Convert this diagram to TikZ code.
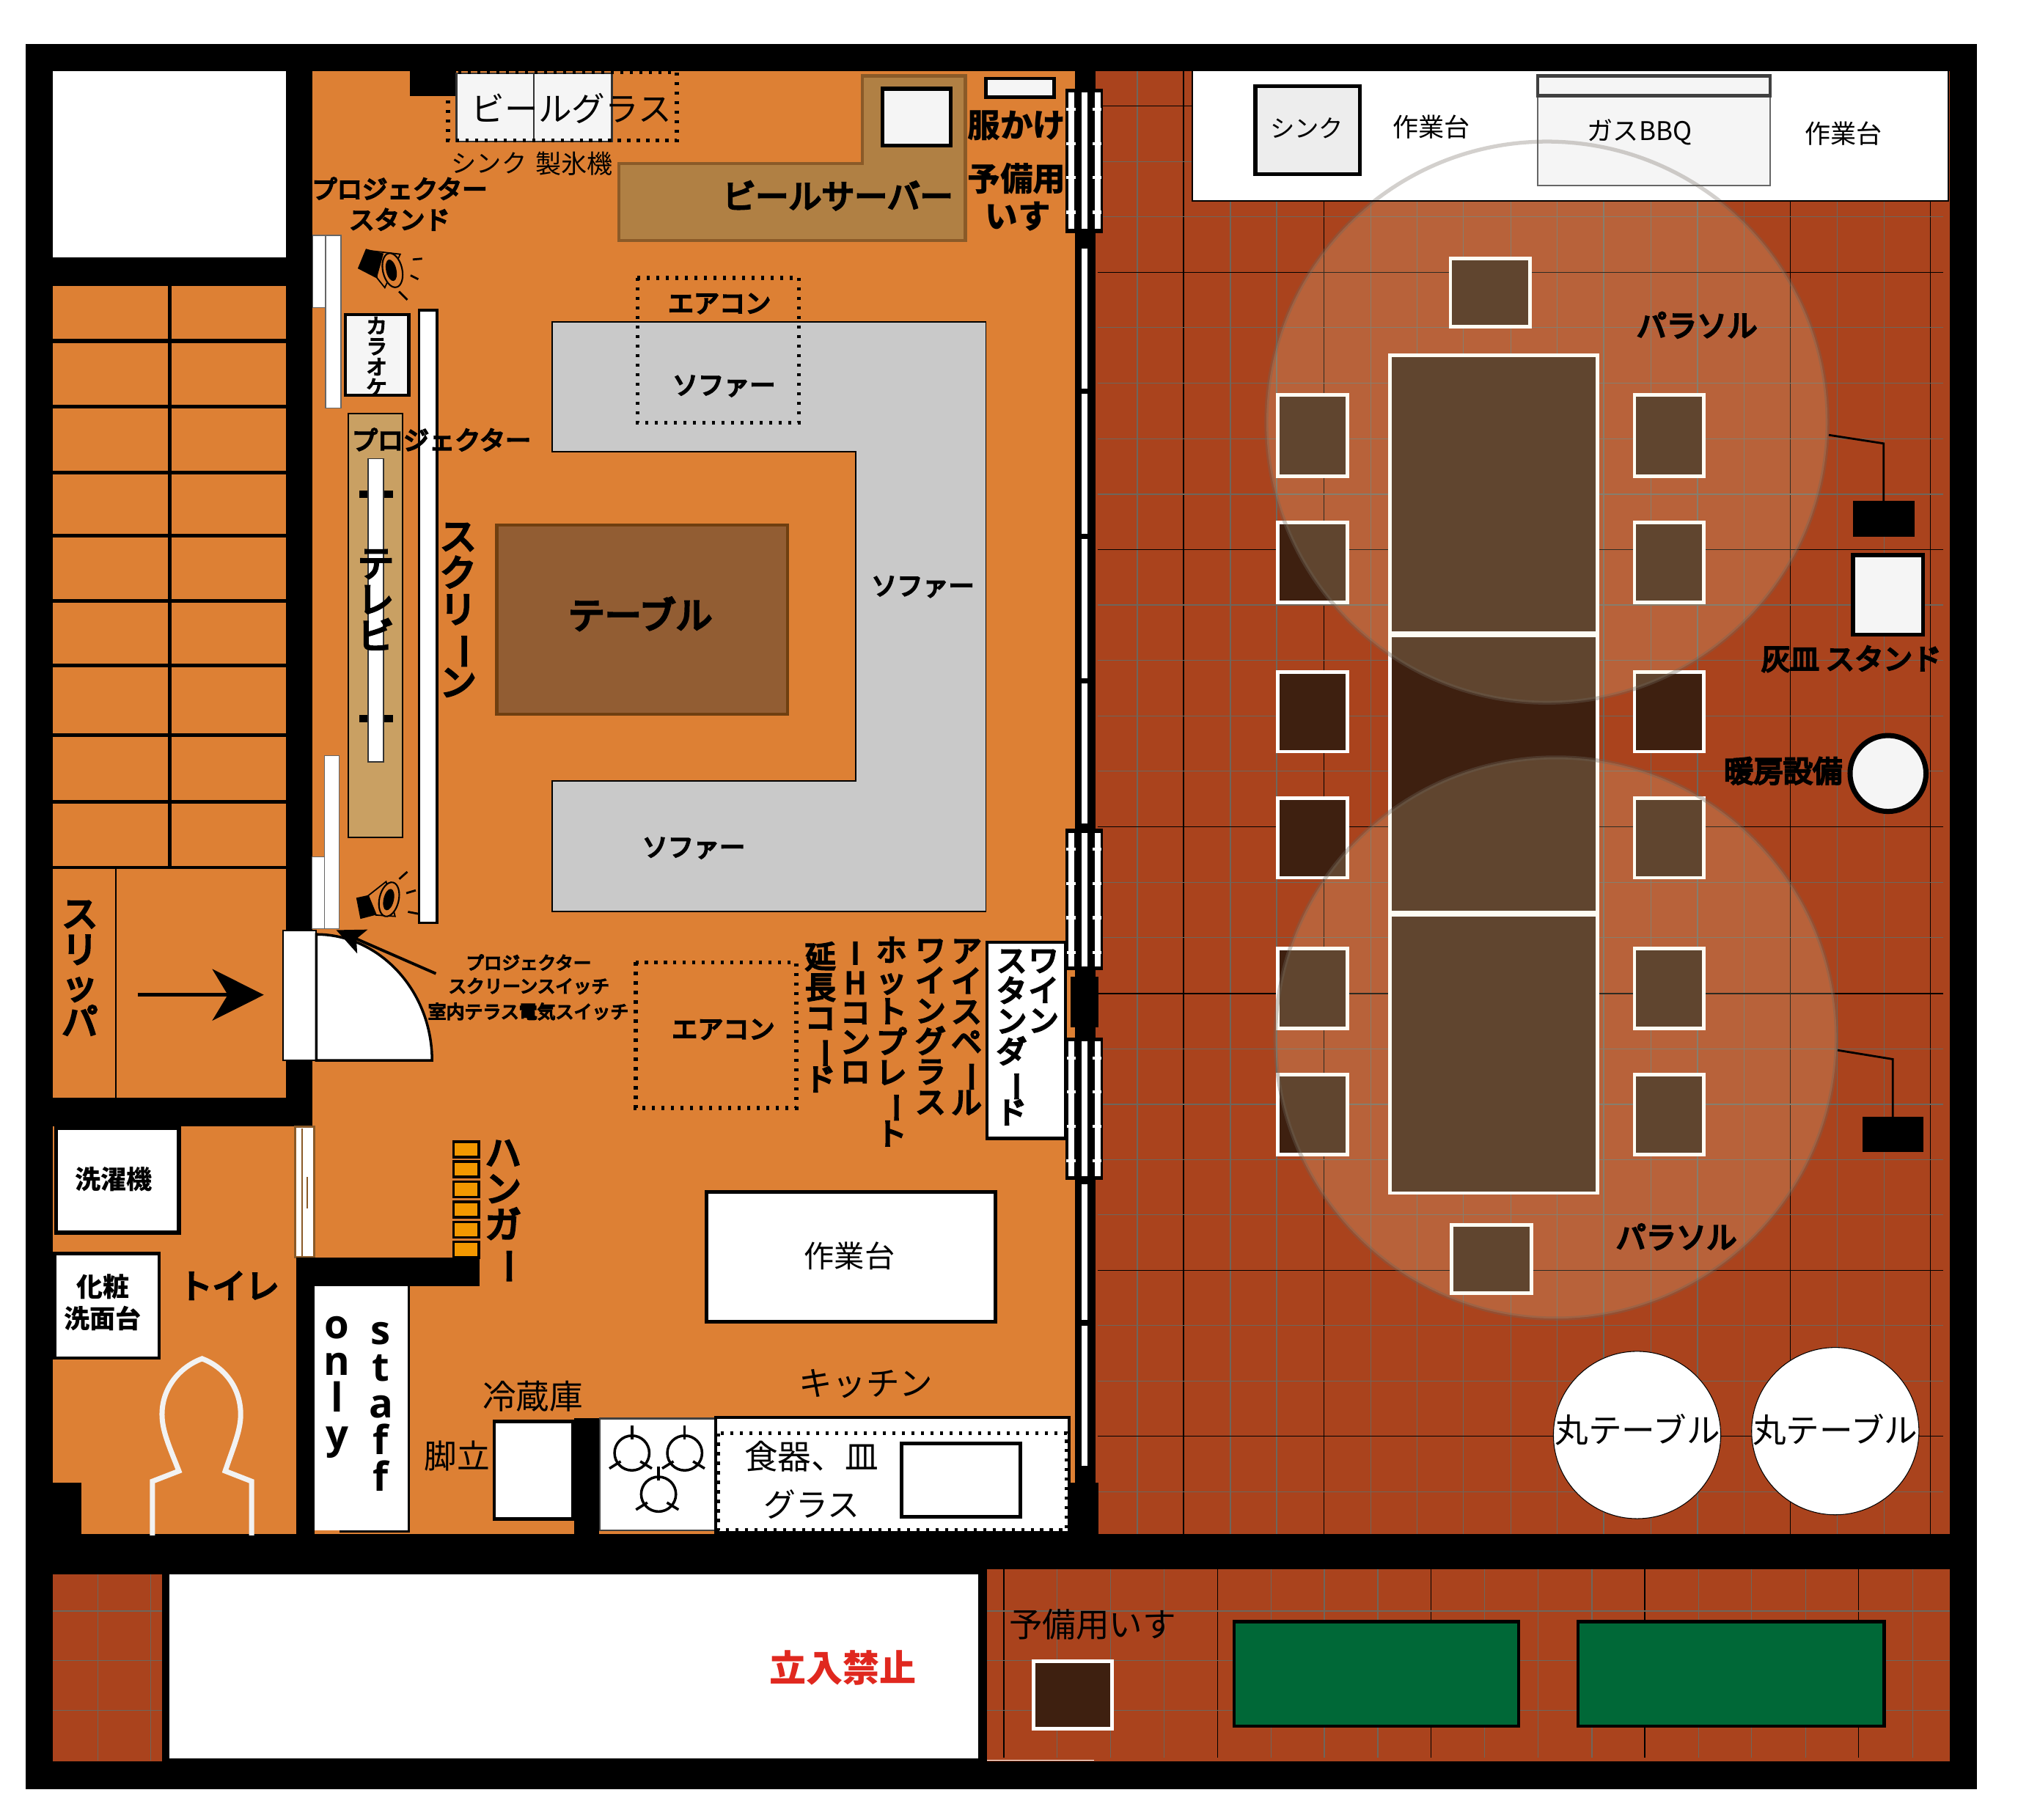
\documentclass[tikz,border=0pt]{standalone}
\usepackage{fontspec}
\usetikzlibrary{arrows.meta}
\setmainfont{Noto Sans CJK JP}
\newfontfamily\jp{Noto Sans CJK JP}
\newfontfamily\jpm[FakeBold=6]{Noto Sans CJK JP}
\newfontfamily\lat{Open Sans}
\newcommand\fs[1]{\fontsize{#1}{#1}\selectfont\lineskiplimit=-100pt\lineskip=0pt}
\newcommand\fsl{\lat\bfseries\fontsize{31}{28.5}\selectfont\lineskiplimit=-100pt\lineskip=0pt}
\newcommand\VB{\rotatebox[origin=c]{-90}{ー}}
\definecolor{floorO}{HTML}{DD8034}
\definecolor{floorR}{HTML}{AA431D}
\definecolor{tileG}{HTML}{6E665C}
\definecolor{beer}{HTML}{B08044}
\definecolor{beerE}{HTML}{8A5A28}
\definecolor{tvst}{HTML}{C9A063}
\definecolor{tbl}{HTML}{925D33}
\definecolor{tblE}{HTML}{6F3F10}
\definecolor{sofa}{HTML}{C9C9C9}
\definecolor{dkb}{HTML}{3E2010}
\definecolor{grn}{HTML}{006837}
\definecolor{hang}{HTML}{F39800}
\definecolor{offw}{HTML}{F5F5F5}
\definecolor{ban}{HTML}{E0281F}
\definecolor{shade}{HTML}{FDF0BE}
\tikzset{
  x=1pt,y=-1pt,
  tr/.style={inner sep=0pt,text=black,font=\jp\fs{#1}},
  tb/.style={inner sep=0pt,text=black,font=\jp\bfseries\fs{#1}},
  tm/.style={inner sep=0pt,text=black,font=\jpm\fs{#1}},
  vr/.style={inner sep=0pt,align=center,font=\jpm\fs{#1}},
  boxw/.style={draw=black,line width=2.6pt,fill=white},
  boxo/.style={draw=black,line width=3pt,fill=offw},
  thinw/.style={draw=black!60,line width=.8pt,fill=white},
  seat/.style={draw=white,line width=2.8pt,fill=dkb},
  dots/.style={draw=black,line width=3.2pt,dash pattern=on 2.4pt off 5pt},
  umbrella/.style={fill=shade,fill opacity=.18,draw=tileG,draw opacity=.35,line width=3pt},
  ring/.style={draw=tileG,draw opacity=.3,line width=3pt},
  gridg/.style={draw=tileG,line width=.7pt},
  gridk/.style={draw=black,line width=.8pt},
  latv/.style={inner sep=0pt,align=center,font=\fsl},
}
\newcommand\winframe[2]{%
  \fill[black] (827.6,#1) rectangle (857,#2);
  \foreach \xa in {830,840.5,850.5}{\fill[white] (\xa,#1+3) rectangle (\xa+4.5,#2-3);}
  \foreach \dy in {16,42.5,69,96}{
    \fill[white] (828.5,#1+\dy-1.2) rectangle (836,#1+\dy+1.2);
    \fill[white] (849,#1+\dy-1.2) rectangle (856,#1+\dy+1.2);}
}
\newcommand\burner[2]{%
  \begin{scope}[shift={(#1,#2)}]
  \draw[line width=2pt] (0,0) circle (13.5pt);
  \draw[line width=2pt] (0,-21.5)--(0,-10.5);
  \draw[line width=2pt] (-17.5,12)--(-8.7,6.5);
  \draw[line width=2pt] (15.5,12)--(6.5,6.5);
  \end{scope}}
\begin{document}
\begin{tikzpicture}
\useasboundingbox (0,0) rectangle (1568,1413.6);
\fill[white] (0,0) rectangle (1568,1413.6);
% outer black mass
\fill[black] (20,34) rectangle (1536,1390);
% rooms
\fill[white] (41,55) rectangle (222,200);
\fill[floorO] (41,222) rectangle (222,673);
\fill[floorO] (41,675) rectangle (222,853);
\fill[floorO] (41,875) rectangle (230,1192);
\fill[black] (41,1152) rectangle (63,1192);
\fill[floorO] (243,55) rectangle (835,1192);
\fill[black] (318.6,55) rectangle (354.5,74.5);
% stairs
\foreach \yy in {265,316,367,416,467,517,571,623}{\draw[black,line width=3pt] (41,\yy)--(222,\yy);}
\draw[black,line width=2.5pt] (132,222)--(132,673);
\draw[black,line width=.8pt] (90,675)--(90,853);
% terrace floor
\fill[floorR] (851,55) rectangle (1515,1192);
\foreach \xx in {883.7,956,992,1065,1101,1137,1174,1210,1246,1282.6,1319,1355,1427.6,1464}{\draw[gridg] (\xx,55)--(\xx,1192);}
\foreach \xx in {919.5,1028.6,1391,1500}{\draw[gridk] (\xx,55)--(\xx,1192);}
\foreach \yy in {125.6,168.5,254.5,297.8,340.9,384,470,513,556.4,599,685.5,728.6,815,858,901,944,1030,1073,1159}{\draw[gridg] (853,\yy)--(1510,\yy);}
\foreach \yy in {82.3,211.6,427,642.3,772,987,1116}{\draw[gridk] (853,\yy)--(1510,\yy);}
% lower terraces
\fill[floorR] (41,1223) rectangle (126,1368.5);
\fill[floorR] (767,1219.4) rectangle (1515,1368.5);
\foreach \xx in {76,117}{\draw[gridg] (\xx,1223)--(\xx,1368);}
\foreach \xx in {821.5,863,904.7,987.8,1029,1070.6,1153.5,1195,1237,1320,1361,1403,1486}{\draw[gridg] (\xx,1219.4)--(\xx,1365.7);}
\foreach \xx in {780,946,1112,1278,1444}{\draw[gridk] (\xx,1219.4)--(\xx,1365.7);}
\foreach \yy in {1251.7,1290.2,1329}{\draw[gridg] (41,\yy)--(126,\yy);\draw[gridg] (767,\yy)--(1515,\yy);}
\draw[white,line width=.8pt] (767,1367.8)--(850,1367.8);
\fill[white] (131.8,1223) rectangle (760,1366);
% outdoor tables and chairs
\foreach \ya/\yb in {276/492,493.5/709,711/927}{\draw[seat] (1080,\ya) rectangle (1241,\yb);}
\foreach \ya/\yb in {307/370,406/468,522/584,620/682,737/799,835/897}{
  \draw[seat] (993,\ya) rectangle (1047,\yb);
  \draw[seat] (1270,\ya) rectangle (1324,\yb);}
\draw[seat] (1127,201) rectangle (1189,254);
\draw[seat] (1128,952) rectangle (1190,1005);
% parasols
\draw[umbrella] (1202,328) circle (218pt);
\draw[umbrella] (1209,806.5) circle (218pt);
\node[tm=23.5] (tPar1) at (1318.5,252.6) {パラソル};
\node[tm=23.5] (tPar2) at (1302.5,961) {パラソル};
% top terrace counter
\draw[black,line width=1pt,fill=white] (926.4,55) rectangle (1514,156);
\draw[boxo,fill=black!7] (975.5,67) rectangle (1056.6,135.5);
\draw[draw=black!60,line width=1pt,fill=offw] (1194.7,58) rectangle (1375.5,144);
\draw[draw=black!75,line width=2.6pt,fill=offw] (1194.7,59) rectangle (1375.5,74.5);
\begin{scope}
\clip (926.4,55) rectangle (1514,155);
\draw[ring] (1202,328) circle (218pt);
\end{scope}
\node[tr=19] (tSink2) at (1015.4,99.7) {シンク};
\node[tr=20] (tWork1) at (1112,98.8) {作業台};
\node[tr=20] (tBBQ) at (1274,102.6) {ガスBBQ};
\node[tr=20] (tWork2) at (1432.5,103.5) {作業台};
% parasol bases
\fill[black] (1439.8,389.4) rectangle (1487.7,417.3);
\fill[black] (1447,867.8) rectangle (1494.7,895);
\draw[black,line width=1.6pt] (1421,338)--(1463.6,344.6)--(1463.6,390);
\draw[black,line width=1.6pt] (1427.8,816)--(1470.7,823)--(1470.7,868);
\draw[boxo] (1439.8,431.3) rectangle (1494.3,493.3);
\node[tm=22.5] (tAsh) at (1438.5,512) {灰皿 スタンド};
\draw[black,line width=4pt,fill=offw] (1467,601) circle (29.5pt);
\node[tm=23] (tHeat) at (1385.5,599) {暖房設備};
% round tables
\draw[black,line width=.6pt,fill=white] (1272,1115) circle (65pt);
\draw[black,line width=.6pt,fill=white] (1426,1112) circle (65pt);
\node[tr=26] (tRound1) at (1272.5,1111) {丸テーブル};
\node[tr=26] (tRound2) at (1426,1111) {丸テーブル};
% lower right
\node[tr=26] (tSpare) at (849,1262) {予備用いす};
\draw[seat] (803.2,1290.8) rectangle (864.2,1343);
\draw[black,line width=2.4pt,fill=grn] (959,1260) rectangle (1180,1341);
\draw[black,line width=2.4pt,fill=grn] (1226,1260) rectangle (1464,1341);
\node[tb=28.5,text=ban] (tBan) at (655,1296) {立入禁止};
% partition wall and windows
\fill[black] (835,55) rectangle (851,1192);
\fill[black] (831,1152) rectangle (853.5,1219);
\fill[black] (831.8,758.7) rectangle (853.6,798);
\winframe{69}{181}
\winframe{644}{754}
\winframe{806}{917}
\foreach \ya/\yb in {193/302,306/415,419/527,531/640,920/1025.7,1030.4/1138.7}{\fill[white] (840.6,\ya) rectangle (845,\yb);}
% ---- interior ----
% dotted overhead, sink and ice
\draw[draw=black!80,line width=1.5pt,fill=offw] (354.5,57) rectangle (414.7,110);
\draw[draw=black!80,line width=1.5pt,fill=offw] (414.7,57) rectangle (475.3,110);
\draw[dots] (348,56) rectangle (526,109);
\node[tr=26] (tGlass) at (444,84.3) {ビールグラス};
\node[tr=19.5] (tSink) at (380,127) {シンク};
\node[tr=20] (tIce) at (446,127) {製氷機};
\node[tm=19.6] (tProjSt1) at (310.5,146.5) {プロジェクター};
\node[tm=19.6] (tProjSt2) at (310.5,170.5) {スタンド};
% beer server
\draw[draw=beerE,line width=2.5pt,fill=beer] (481,127)--(670,127)--(670,59)--(750,59)--(750,187)--(481,187)--cycle;
\draw[draw=black,line width=3pt,fill=offw] (685.5,69) rectangle (738.6,113);
\node[tm=25.6] (tBeer) at (651,152) {ビールサーバー};
\draw[draw=black,line width=2.6pt,fill=offw] (766,61) rectangle (819,75.6);
\node[tb=25.5] (tHang) at (790,97.4) {服かけ};
\node[tb=25.5] (tSp1) at (790,139) {予備用};
\node[tb=25.5] (tSp2) at (791,168) {いす};
% strips on the left wall
\draw[thinw] (243,183) rectangle (253,239);
\draw[thinw] (253,183) rectangle (265,317);
\draw[thinw] (242.5,665.6) rectangle (252,721.6);
\draw[thinw] (252,587) rectangle (263.4,721.6);
% speakers
\draw[draw=black,line width=1pt,fill=floorO] (289,195)--(311,197.5)--(299,223.5)--(293,216)--cycle;
\fill[black] (284.3,193.3)--(278,208.6)--(292.7,216.2)--(298,197)--cycle;
\draw[draw=black,line width=1.2pt,fill=floorO,rotate around={13:(305,210)}] (305,210) ellipse (7.5pt and 13.5pt);
\fill[black,rotate around={13:(304,210)}] (304,210) ellipse (4pt and 8.5pt);
\draw[black,line width=1.6pt] (320.7,201.6)--(328,201);
\draw[black,line width=1.6pt] (319,214)--(325,217);
\draw[black,line width=1.6pt] (310,226.5)--(316.5,233);
\draw[draw=black,line width=1pt,fill=floorO] (286,696)--(300,685)--(307,712)--(292,711)--cycle;
\fill[black] (276.8,697.6)--(280,714)--(292.7,710.7)--(286.4,695.5)--cycle;
\draw[draw=black,line width=1.2pt,fill=floorO,rotate around={-13:(302.3,698.8)}] (302.3,698.8) ellipse (7.5pt and 13.5pt);
\fill[black,rotate around={-13:(302,699)}] (302,699) ellipse (4pt and 8.5pt);
\draw[black,line width=1.6pt] (310.2,683)--(316.5,677.4);
\draw[black,line width=1.6pt] (315.7,694)--(323,691.8);
\draw[black,line width=1.6pt] (317,708.5)--(324.9,710);
% karaoke
\draw[draw=black,line width=2.6pt,fill=offw] (268.4,244.5) rectangle (317.7,307);
\node[vr=16] (tKar) at (292.7,277) {カ\\ラ\\オ\\ケ};
% tv
\draw[draw=black,line width=1pt,fill=tvst] (270.5,321.5) rectangle (313,650.8);
\foreach \yy in {384,558.5}{\fill[black] (279,\yy-2.8) rectangle (305.4,\yy+2.8);}
\draw[draw=black!80,line width=1pt,fill=white] (286,356.4) rectangle (298,592);
\node[vr=28] (tTV) at (292,466) {テ\\レ\\ビ};
% screen
\draw[draw=black,line width=2pt,fill=white] (325.5,241) rectangle (339.5,717);
\node[tm=20] (tProj) at (343,341.6) {プロジェクター};
\node[vr=28.4] (tScr) at (356,474) {ス\\ク\\リ\\\VB\\ン};
% sofa, table, overhead AC
\draw[draw=black,line width=1pt,fill=sofa] (429,250)--(766,250)--(766,708)--(429,708)--(429,607)--(665,607)--(665,351)--(429,351)--cycle;
\node[tm=20] (tSofa1) at (562.5,300) {ソファー};
\node[tm=20] (tSofa2) at (717,456) {ソファー};
\node[tm=20] (tSofa3) at (539,659) {ソファー};
\draw[dots] (495.4,216) rectangle (620.7,328.5);
\node[tm=20] (tAC1) at (559,236) {エアコン};
\draw[draw=tblE,line width=2.5pt,fill=tbl] (386,408) rectangle (612,555);
\node[tm=28.4] (tTable) at (497.5,477) {テーブル};
\draw[dots] (494,747.8) rectangle (618.6,861);
\node[tm=20] (tAC2) at (562,800) {エアコン};
% door
\draw[draw=black,line width=1pt,fill=white] (220,723) rectangle (245.5,824);
\draw[draw=black,line width=2pt,fill=white] (245.8,726)..controls (295,726) and (335.7,770)..(335.7,824)--(245.8,824)--cycle;
\coordinate (swA) at (338.7,756.5);
\coordinate (swB) at (261.3,722.7);
\draw[black,line width=2.2pt,-{Stealth[length=22pt,width=20pt,inset=5pt]}] (swA)--(swB);
\node[tm=14] (tS1) at (410.7,747.8) {プロジェクター};
\node[tm=14] (tS2) at (411,766.3) {スクリーンスイッチ};
\node[tm=14.2] (tS3) at (410.5,786) {室内テラス電気スイッチ};
% vertical labels
\node[vr=23.6,anchor=north] (tIce2) at (751,730) {ア\\イ\\ス\\ペ\\\VB\\ル};
\node[vr=23.6,anchor=north] (tWine) at (723,730) {ワ\\イ\\ン\\グ\\ラ\\ス};
\node[vr=23.8,anchor=north] (tHot) at (692.6,728) {ホ\\ッ\\ト\\プ\\レ\\\VB\\ト};
\node[vr=23,anchor=north] (tIH) at (664.6,732) {I\\H\\コ\\ン\\ロ};
\node[vr=23.8,anchor=north] (tExt) at (637.4,732) {延\\長\\コ\\\VB\\ド};
\draw[boxw,line width=2.4pt] (767,732) rectangle (828,884.5);
\node[vr=23.4,anchor=north] (tW1) at (810.9,738) {ワ\\イ\\ン};
\node[vr=23.6,anchor=north] (tW2) at (786,738) {ス\\タ\\ン\\ダ\\\VB\\ド};
% slippers
\node[vr=28,anchor=north] (tSlip) at (62,700) {ス\\リ\\ッ\\パ};
\coordinate (slA) at (107,773);
\coordinate (slB) at (205,773);
\draw[black,line width=3pt,-{Stealth[length=40pt,width=40pt,inset=12pt]}] (slA)--(slB);
% washroom
\draw[draw=black,line width=3pt,fill=white] (43.5,876.5) rectangle (139,957.7);
\node[tb=20] (tWash) at (88.5,916.5) {洗濯機};
\draw[draw=black,line width=2.4pt,fill=white] (42.5,974) rectangle (123.6,1055);
\node[tb=20.5] (tVan1) at (80,1000) {化粧};
\node[tb=20] (tVan2) at (79.6,1024.6) {洗面台};
\node[tm=26] (tToilet) at (178,999) {トイレ};
\draw[white!95!black,line width=4pt] (118.4,1193)--(118.4,1151)--(139,1143)..controls (132,1125) and (125.9,1112)..(125.9,1099)..controls (125.9,1078) and (140,1062)..(157,1055.7)..controls (174,1062) and (187,1078)..(187,1099)..controls (187,1112) and (181,1125)..(175,1143)--(195.5,1151)--(195.5,1193);
% toilet door
\draw[draw=beerE,line width=1.5pt,fill=white] (229.5,875.5) rectangle (244,977);
\draw[beerE,line width=1pt] (234.8,877)--(234.8,976);
\draw[beerE,line width=1pt] (238.7,914.5)--(238.7,938.7);
% staff wall
\fill[black] (230,977.3) rectangle (244.5,1192);
\fill[black] (230,977.3) rectangle (372.8,999.2);
\fill[white] (244.6,999.2) rectangle (317,1189);
\draw[black,line width=1.5pt] (317.5,999.2)--(317.5,1190)--(264,1190);
\node[latv] (tStaff) at (296,1093) {s\\t\\a\\f\\f};
\node[latv] (tOnly) at (262,1078) {o\\n\\l\\y};
% hangers
\foreach \k in {0,...,5}{\draw[draw=black,line width=2pt,fill=hang] (352.5,887+15.6*\k) rectangle (372,899+15.6*\k);}
\node[vr=28,anchor=north] (tHanger) at (391,886) {ハ\\ン\\ガ\\\VB};
% kitchen
\draw[boxw] (549,926) rectangle (773.3,1027);
\node[tr=23.5] (tWork3) at (660,976) {作業台};
\node[tr=26] (tFridge) at (414,1085) {冷蔵庫};
\node[tr=25.5] (tStep) at (355,1131.5) {脚立};
\draw[boxw] (384,1104.5) rectangle (445,1180.3);
\fill[black] (446.4,1102) rectangle (465.3,1192);
\draw[draw=black!75,line width=1.5pt,fill=white] (466,1102.2) rectangle (556,1189);
\burner{491}{1129}
\burner{532}{1129}
\burner{511.7}{1161}
\draw[draw=black,line width=2.4pt,fill=white] (556,1101.3) rectangle (830.5,1191);
\draw[dots] (558,1113.6) rectangle (829,1189);
\node[tr=26] (tDish) at (630.5,1131.7) {食器、皿};
\node[tr=25] (tGl2) at (630.5,1169) {グラス};
\draw[draw=black,line width=3pt,fill=white] (700.4,1121.6) rectangle (793,1178.6);
\node[tr=26] (tKitchen) at (673,1075) {キッチン};
\end{tikzpicture}
\end{document}
